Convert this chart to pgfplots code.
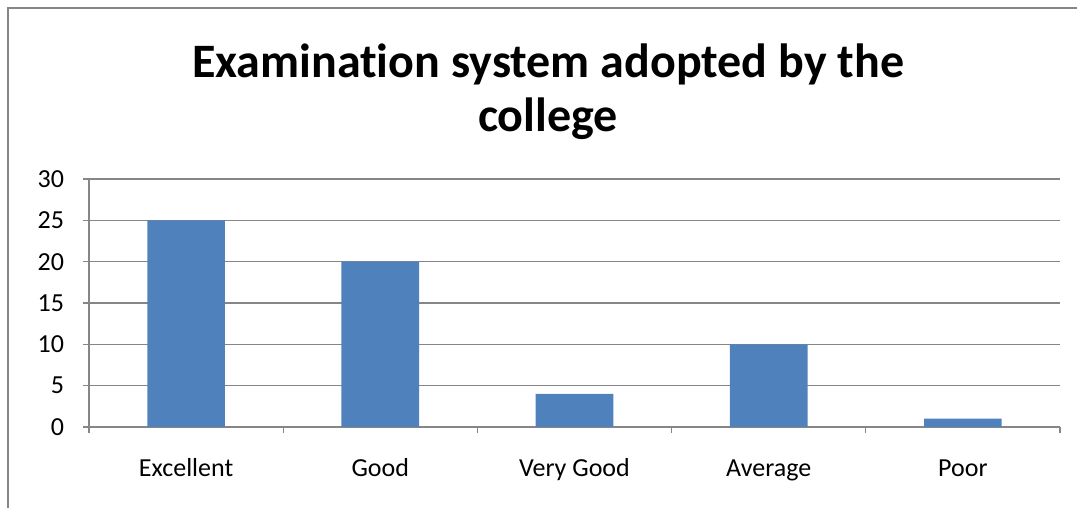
\documentclass[border=0pt]{standalone}
\usepackage{fontspec}
\setmainfont{Carlito}[Ligatures={NoCommon}]
\usepackage{pgfplots}
\pgfplotsset{compat=1.18}
\definecolor{barblue}{HTML}{4F81BD}
\definecolor{gridgray}{HTML}{868686}
\begin{document}
\begin{tikzpicture}
	% 1 px of the reference = 0.5pt
	\path[use as bounding box] (0,0) rectangle (538.5pt,254pt);
	\draw[gridgray, line width=0.7pt] (4pt,0) -- (4pt,250pt) -- (538.5pt,250pt);
	\node[font=\fontsize{24}{28}\selectfont\bfseries, anchor=base] at (274pt,215pt) {Examination system adopted by the};
	\node[font=\fontsize{24}{28}\selectfont\bfseries, anchor=base] at (274pt,188pt) {college};
	\begin{axis}
	[
		at={(44.5pt,40.5pt)},
		anchor=south west,
		scale only axis,
		width=485.5pt,
		height=124pt,
		xmin=-0.5,
		xmax=4.5,
		ymin=0,
		ymax=30,
		ytick={0,5,...,30},
		xtick={-0.5,0.5,...,4.5},
		xticklabels={Excellent, Good, Very Good, Average, Poor},
		x tick label as interval=true,
		axis x line*=bottom,
		axis y line*=left,
		axis line style={gridgray, line width=0.6pt},
		tick style={gridgray, line width=0.6pt},
		tick align=outside,
		major tick length=3pt,
		ymajorgrids=true,
		grid style={gridgray, line width=0.6pt},
		ticklabel style={font=\fontsize{13}{15}\selectfont, black},
		/pgf/number format/assume math mode=true,
		xticklabel style={anchor=base, yshift=-22pt},
		yticklabel style={xshift=-6pt},
	]
		\addplot
		[
			ybar,
			bar width=0.4,
			fill=barblue,
			draw=none,
		] coordinates
		{
			(0,25) (1,20) (2,4) (3,10) (4,1)
		};
	\end{axis}
\end{tikzpicture}
\end{document}
